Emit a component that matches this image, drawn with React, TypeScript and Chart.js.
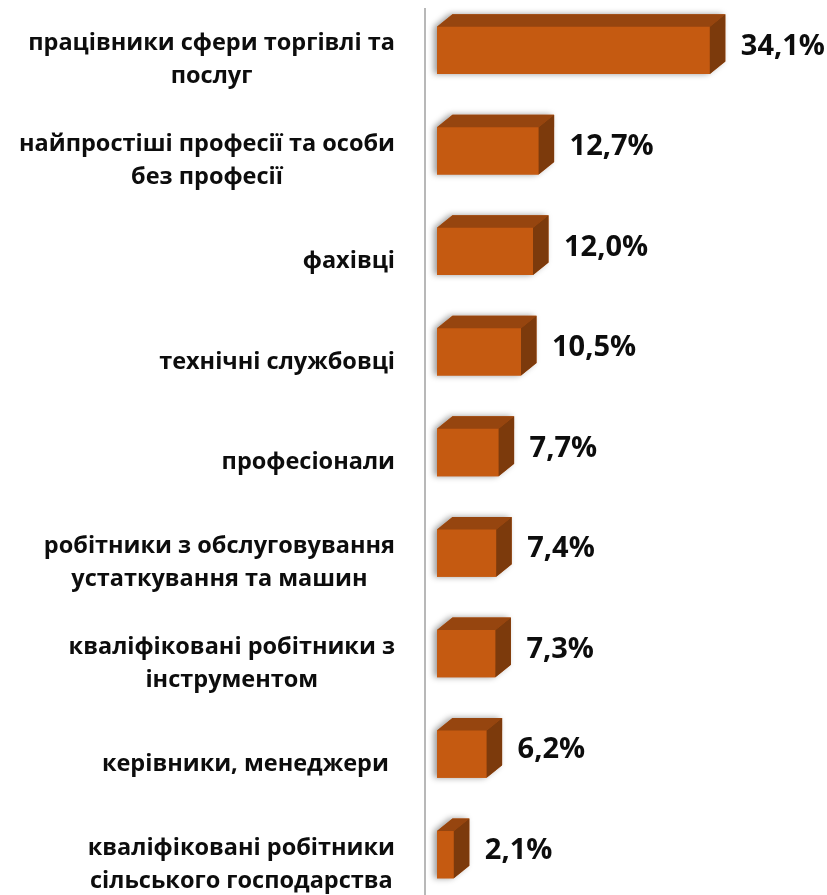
import React, { useEffect, useRef } from "react";
import { Chart, registerables } from "chart.js";

Chart.register(...registerables);

const categories: string[][] = [
  ["працівники сфери торгівлі та", "послуг"],
  ["найпростіші професії та особи", "без професії"],
  ["фахівці"],
  ["технічні службовці"],
  ["професіонали"],
  ["робітники з обслуговування", "устаткування та машин"],
  ["кваліфіковані робітники з", "інструментом"],
  ["керівники, менеджери "],
  ["кваліфіковані робітники", "сільського господарства"],
];
const values: number[] = [34.1, 12.7, 12.0, 10.5, 7.7, 7.4, 7.3, 6.2, 2.1];
const valueLabels: string[] = values.map((v) => v.toFixed(1).replace(".", ",") + "%");

const FRONT = "#C55A11";
const TOP = "#96450F";
const SIDE = "#7C3A0C";
const DX = 15.5;
const DY = 12.5;
const CAT_FONT = "bold 23.5px 'Open Sans'";
const VAL_FONT = "bold 29px 'Open Sans'";

const threeD = {
  id: "threeD",
  beforeDatasetsDraw(chart: any) {
    const ctx = chart.ctx;
    const meta = chart.getDatasetMeta(0);
    const ca = chart.chartArea;
    ctx.save();
    ctx.strokeStyle = "#b8b8b8";
    ctx.lineWidth = 2;
    ctx.beginPath();
    ctx.moveTo(ca.left - 12, 8);
    ctx.lineTo(ca.left - 12, chart.height);
    ctx.stroke();
    ctx.restore();
    meta.data.forEach((bar: any) => {
      const h = bar.height;
      const top = bar.y - h / 2;
      const bot = bar.y + h / 2;
      ctx.save();
      ctx.shadowColor = "rgba(0,0,0,0.4)";
      ctx.shadowBlur = 6;
      ctx.shadowOffsetX = -3;
      ctx.shadowOffsetY = 0;
      ctx.fillStyle = FRONT;
      ctx.beginPath();
      ctx.moveTo(bar.base, bot);
      ctx.lineTo(bar.base, top);
      ctx.lineTo(bar.base + DX, top - DY);
      ctx.lineTo(bar.x + DX, top - DY);
      ctx.lineTo(bar.x + DX, bot - DY);
      ctx.lineTo(bar.x, bot);
      ctx.closePath();
      ctx.fill();
      ctx.restore();
    });
  },
  afterDatasetsDraw(chart: any) {
    const ctx = chart.ctx;
    const meta = chart.getDatasetMeta(0);
    const yScale = chart.scales.y;
    const ca = chart.chartArea;
    meta.data.forEach((bar: any, i: number) => {
      const h = bar.height;
      const top = bar.y - h / 2;
      const bot = bar.y + h / 2;
      ctx.save();
      ctx.fillStyle = TOP;
      ctx.beginPath();
      ctx.moveTo(bar.base, top);
      ctx.lineTo(bar.base + DX, top - DY);
      ctx.lineTo(bar.x + DX, top - DY);
      ctx.lineTo(bar.x, top);
      ctx.closePath();
      ctx.fill();
      ctx.fillStyle = SIDE;
      ctx.beginPath();
      ctx.moveTo(bar.x, top);
      ctx.lineTo(bar.x + DX, top - DY);
      ctx.lineTo(bar.x + DX, bot - DY);
      ctx.lineTo(bar.x, bot);
      ctx.closePath();
      ctx.fill();
      ctx.fillStyle = "#0d0d0d";
      ctx.font = VAL_FONT;
      ctx.textAlign = "left";
      ctx.textBaseline = "middle";
      ctx.fillText(valueLabels[i], bar.x + 31, bar.y - 4);
      ctx.restore();
    });
    ctx.save();
    ctx.font = CAT_FONT;
    ctx.fillStyle = "#0d0d0d";
    ctx.textAlign = "center";
    ctx.textBaseline = "middle";
    const right = ca.left - 42;
    const lh = 33;
    categories.forEach((lines, i) => {
      const cy = yScale.getPixelForValue(i) + 10;
      const w = Math.max(...lines.map((l) => ctx.measureText(l).width));
      const cx = right - w / 2;
      const y0 = cy - ((lines.length - 1) * lh) / 2;
      lines.forEach((l, j) => ctx.fillText(l, cx, y0 + j * lh));
    });
    ctx.restore();
  },
};

export default function App() {
  const ref = useRef<HTMLCanvasElement | null>(null);
  useEffect(() => {
    if (!ref.current) return;
    const chart = new Chart(ref.current, {
      type: "bar",
      data: {
        labels: categories.map((c) => c.join(" ")),
        datasets: [
          {
            data: values,
            backgroundColor: FRONT,
            borderWidth: 0,
            categoryPercentage: 1,
            barPercentage: 0.47,
          },
        ],
      },
      options: {
        indexAxis: "y",
        animation: false,
        responsive: true,
        maintainAspectRatio: false,
        layout: { padding: { left: 437, right: 30, top: 0, bottom: 0 } },
        plugins: { legend: { display: false }, tooltip: { enabled: false } },
        scales: {
          x: { display: false, min: 0, max: 45 },
          y: { display: false },
        },
      },
      plugins: [threeD],
    });
    return () => chart.destroy();
  }, []);
  return (
    <div style={{ position: "absolute", left: 0, top: 0, width: 827, height: 905, background: "#fff" }}>
      <canvas ref={ref} />
    </div>
  );
}
